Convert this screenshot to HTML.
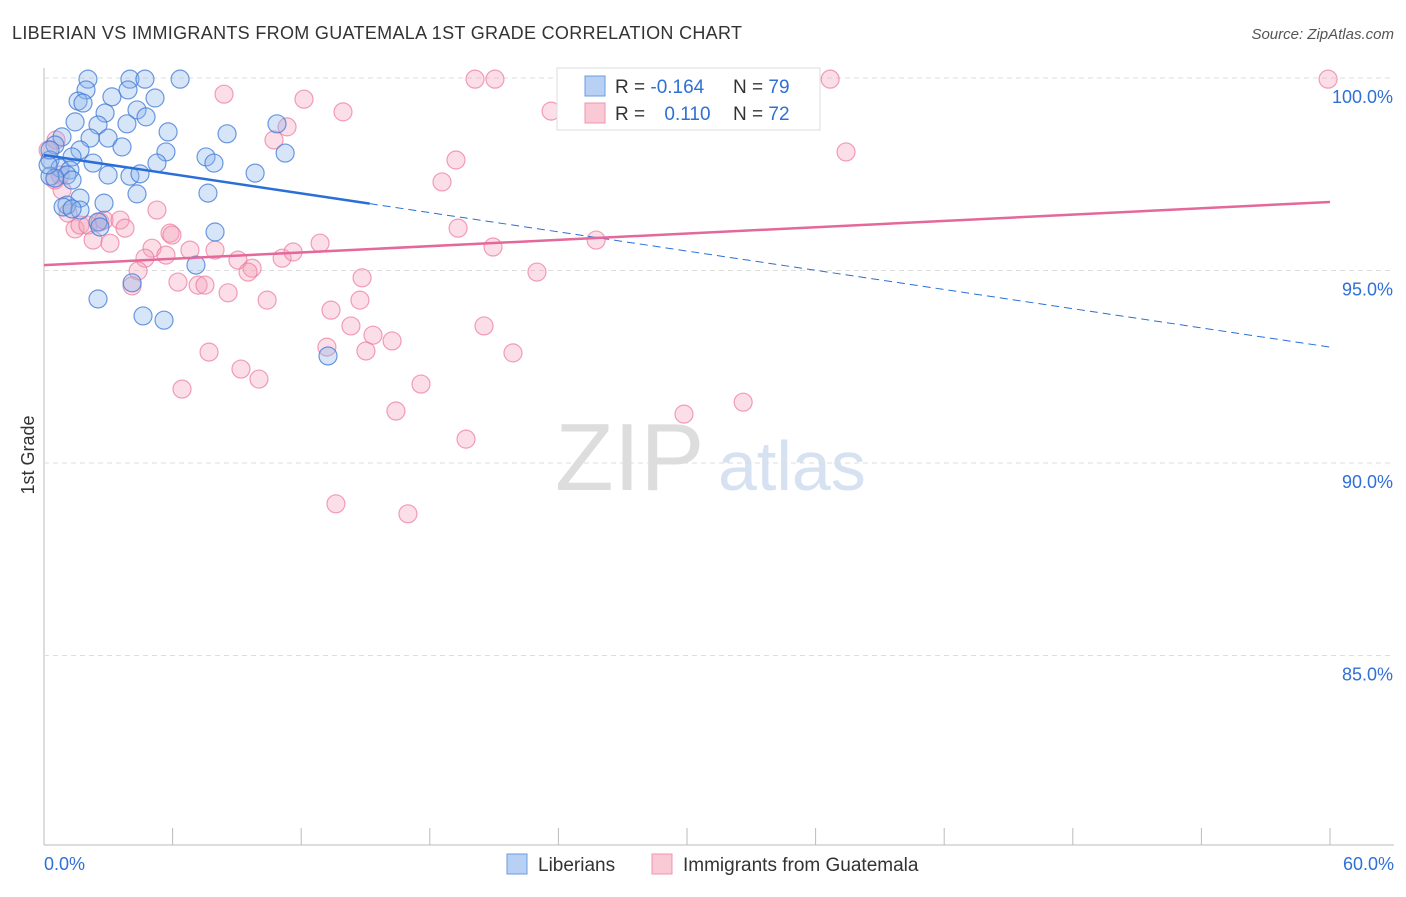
<!DOCTYPE html>
<html><head><meta charset="utf-8"><style>
body{margin:0;background:#fff;font-family:"Liberation Sans",sans-serif;}
svg text{font-family:"Liberation Sans",sans-serif;}
</style></head><body>
<svg id="c" width="1406" height="892" xmlns="http://www.w3.org/2000/svg">
<text x="12" y="39" font-size="18" fill="#333" textLength="730">LIBERIAN VS IMMIGRANTS FROM GUATEMALA 1ST GRADE CORRELATION CHART</text>
<text x="1394" y="39" font-size="15" fill="#555" font-style="italic" text-anchor="end">Source: ZipAtlas.com</text>
<text x="34" y="455" font-size="18" fill="#333" transform="rotate(-90 34 455)" text-anchor="middle">1st Grade</text>
<text x="555" y="490" font-size="96" fill="#ddd" font-family="Liberation Serif">ZIP</text>
<text x="718" y="490" font-size="70" fill="#d6e2f2">atlas</text>
<g id="grid"></g><g id="pts"></g><g id="lines"></g>
<g>
<rect x="557" y="68" width="263" height="62" fill="#fff" stroke="#ddd"/>
<rect x="585" y="76" width="20" height="20" fill="#b8d0f3" stroke="#6a9be0"/>
<rect x="585" y="103" width="20" height="20" fill="#f9c9d6" stroke="#ee94ae"/>
<text x="615" y="93" font-size="19" fill="#333">R = <tspan fill="#2f6fd6">-0.164</tspan></text>
<text x="733" y="93" font-size="19" fill="#333">N = <tspan fill="#2f6fd6">79</tspan></text>
<text x="615" y="120" font-size="19" fill="#333">R = <tspan fill="#2f6fd6" dx="14">0.110</tspan></text>
<text x="733" y="120" font-size="19" fill="#333">N = <tspan fill="#2f6fd6">72</tspan></text>
</g>
<g>
<rect x="507" y="854" width="20" height="20" fill="#b8d0f3" stroke="#6a9be0"/>
<text x="538" y="871" font-size="19" fill="#333">Liberians</text>
<rect x="652" y="854" width="20" height="20" fill="#f9c9d6" stroke="#ee94ae"/>
<text x="683" y="871" font-size="19" fill="#333">Immigrants from Guatemala</text>
</g>
</svg>
<script>
const yTicks=[100,95,90,85];
const xTickLabels=["0.0%","60.0%"];
const blueX=[2.05,4.01,4.71,6.35,1.96,3.92,5.18,1.59,1.82,3.17,4.34,2.85,4.76,1.45,2.52,3.87,10.87,5.79,8.54,0.84,2.15,2.99,0.51,3.64,1.68,5.69,11.25,7.56,0.28,1.31,2.29,5.27,7.93,0.75,1.21,1.07,2.99,4.01,4.48,9.85,0.28,0.51,1.31,4.34,7.65,1.68,2.80,1.07,0.89,1.68,1.31,2.52,2.61,7.98,7.09,4.11,2.52,4.62,5.60,13.25,0.28,0.19];
const blueY=[99.97,99.97,99.97,99.97,99.69,99.69,99.48,99.40,99.35,99.51,99.17,99.09,98.99,98.86,98.78,98.81,98.81,98.60,98.55,98.47,98.44,98.44,98.26,98.21,98.13,98.08,98.05,97.95,97.87,97.95,97.79,97.79,97.79,97.66,97.61,97.48,97.48,97.45,97.51,97.53,97.45,97.40,97.35,96.99,97.01,96.88,96.75,96.70,96.65,96.57,96.60,96.26,96.13,96.00,95.14,94.68,94.26,93.82,93.71,92.78,98.13,97.74];
const pinkX=[20.11,21.04,33.64,36.68,59.91,8.40,12.13,23.66,13.95,10.73,11.34,37.42,19.22,18.57,0.56,0.19,0.75,0.51,0.84,1.12,1.45,1.68,2.05,2.61,2.80,3.55,3.78,2.29,3.08,5.27,5.88,5.97,5.04,4.71,6.81,7.98,5.69,9.05,9.71,9.52,11.11,12.88,11.62,19.32,20.95,25.76,4.39,4.11,6.25,7.19,7.51,8.59,10.41,14.84,14.74,13.39,14.32,15.35,16.24,20.53,13.20,15.02,21.88,23.00,7.70,9.19,10.03,6.44,17.59,16.42,29.86,32.62,19.69,13.62,16.98];
const pinkY=[99.97,99.97,99.97,99.97,99.97,99.58,99.45,99.14,99.12,98.39,98.73,98.08,97.87,97.30,98.39,98.13,97.48,97.35,97.09,96.49,96.08,96.18,96.18,96.26,96.31,96.31,96.10,95.79,95.71,96.57,95.97,95.92,95.58,95.32,95.53,95.53,95.40,95.27,95.06,94.96,95.32,95.71,95.48,96.10,95.61,95.79,94.99,94.60,94.70,94.62,94.62,94.42,94.23,94.81,94.23,93.97,93.56,93.32,93.17,93.56,93.01,92.91,92.86,94.96,92.88,92.44,92.18,91.92,92.05,91.35,91.27,91.58,90.62,88.94,88.68];
const blueTrend=[98.0,93.01], pinkTrend=[95.14,96.78], blueSolidEnd=15.2;
const X0=44,X1=1330,Y100=78,PER=38.5;
const sx=v=>X0+(v/60)*(X1-X0);
const sy=v=>Y100+(100-v)*PER;
const NS="http://www.w3.org/2000/svg";
function mk(t,a,p){const e=document.createElementNS(NS,t);for(const k in a)e.setAttribute(k,a[k]);p.appendChild(e);return e;}
const grid=document.getElementById('grid');
let ax=mk('line',{x1:44,y1:68,x2:44,y2:845,stroke:'#bbb'},grid);


let bx=mk('line',{x1:44,y1:845,x2:1394,y2:845,stroke:'#bbb'},grid);


yTicks.forEach(t=>{
 const g=mk('line',{x1:44,y1:sy(t),x2:1394,y2:sy(t),stroke:'#ddd','stroke-dasharray':'5,4'},grid);
 
 
 const l=mk('text',{x:1393,y:sy(t)+25,'font-size':18,fill:'#2f6fd6','text-anchor':'end'},grid);
 l.textContent=t.toFixed(1)+'%';
 
 
});
for(let i=0;i<=10;i++){
 const x=X0+i*(X1-X0)/10;
 const t=mk('line',{x1:x,y1:828,x2:x,y2:845,stroke:'#bbb'},grid);
 
 
}
xTickLabels.forEach((s,i)=>{
 const t=mk('text',{x:i?1394:44,y:870,'font-size':18,fill:'#2f6fd6','text-anchor':i?'end':'start'},grid);
 t.textContent=s;
 
 
});
const pts=document.getElementById('pts');
pinkX.forEach((x,i)=>{
 const c=mk('circle',{cx:sx(x),cy:sy(pinkY[i]),r:9,fill:'rgba(244,160,185,0.35)',stroke:'rgba(236,120,155,0.7)','stroke-width':1.2},pts);
 
 
});
blueX.forEach((x,i)=>{
 const c=mk('circle',{cx:sx(x),cy:sy(blueY[i]),r:9,fill:'rgba(140,180,235,0.35)',stroke:'rgba(60,120,215,0.75)','stroke-width':1.2},pts);
 
 
});
const lines=document.getElementById('lines');
const by=x=>blueTrend[0]+(blueTrend[1]-blueTrend[0])*x/60;
let l1=mk('line',{x1:sx(0),y1:sy(by(0)),x2:sx(blueSolidEnd),y2:sy(by(blueSolidEnd)),stroke:'#2a6fd8','stroke-width':2.5},lines);


let l2=mk('line',{x1:sx(blueSolidEnd),y1:sy(by(blueSolidEnd)),x2:sx(60),y2:sy(by(60)),stroke:'#2a6fd8','stroke-width':1,'stroke-dasharray':'8,5'},lines);


let l3=mk('line',{x1:sx(0),y1:sy(pinkTrend[0]),x2:sx(60),y2:sy(pinkTrend[1]),stroke:'#e4689a','stroke-width':2.5},lines);


</script>
</body></html>
